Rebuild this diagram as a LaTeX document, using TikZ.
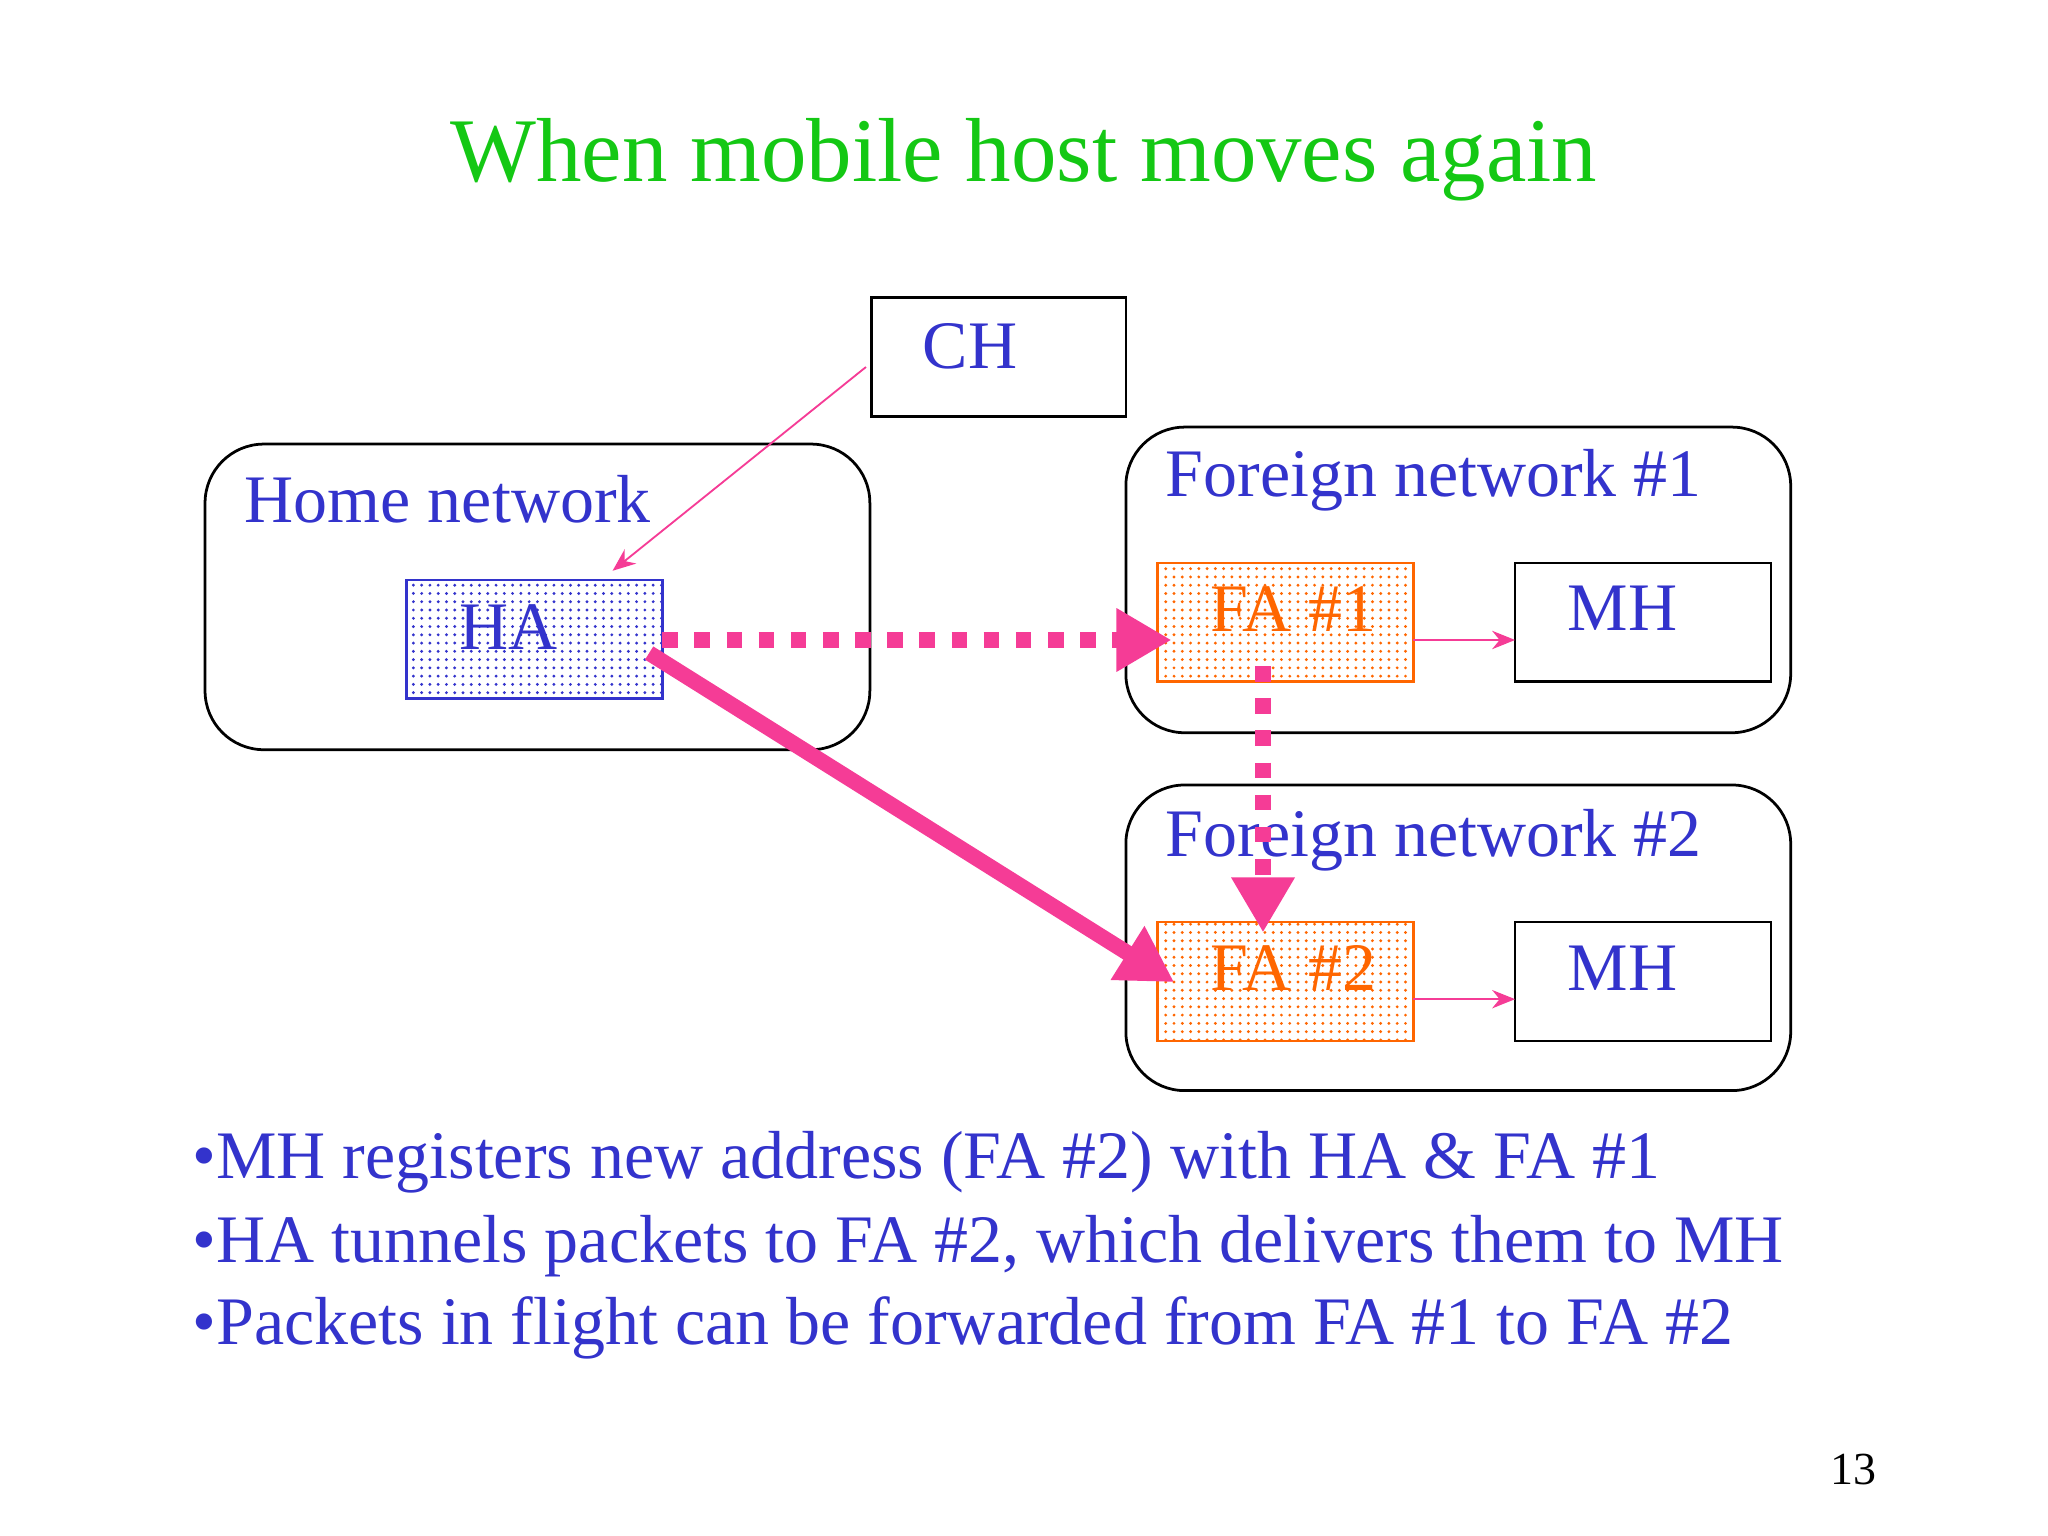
\documentclass[tikz,border=0pt]{standalone}
\usepackage{fontspec}
\setmainfont{Liberation Serif}
\usetikzlibrary{patterns.meta,arrows.meta}
\definecolor{txtblue}{RGB}{51,51,204}
\definecolor{ttlgreen}{RGB}{20,200,20}
\definecolor{pinkish}{RGB}{245,60,150}
\definecolor{orng}{RGB}{255,102,0}
\tikzset{
  net/.style={draw,rounded corners=0.45cm,line width=0.6pt},
  box/.style={draw,line width=0.6pt},
  agent/.style={draw=#1,pattern={Dots[radius=0.35pt,distance=1.8pt]},pattern color=#1,line width=0.6pt},
  lbl/.style={font=\fontsize{14.8}{18}\selectfont,text=txtblue,anchor=west},
  tunnel/.style={pinkish,line width=3.4pt,-{Triangle[length=12pt,width=13pt]}},
  dashtunnel/.style={tunnel,dash pattern=on 3.4pt off 3.6pt},
  thin/.style={pinkish,-{Stealth[length=5pt,width=4pt]}},
}
\begin{document}
\begin{tikzpicture}[x=0.01cm,y=-0.01cm]
        \useasboundingbox (0,0) rectangle (1568,1176);
        \node[font=\fontsize{19.8}{24}\selectfont,text=ttlgreen] (title) at (784,122) {When mobile host moves again};
        % boxes
        \draw[box] (667,228) rectangle (862,319);
        \node[lbl] (ch) at (694,265) {CH};
        \draw[net] (157,340) rectangle (666,574);
        \node[lbl] (home) at (175,382) {Home network};
        \draw[agent=txtblue] (311,444) rectangle (507,535);
        \node[lbl] (ha) at (339,480) {HA};
        \draw[net] (862,327) rectangle (1371,561);
        \node[lbl] (fn1) at (880,368) {Foreign network \#1};
        \draw[agent=orng] (886,431) rectangle (1082,522);
        \node[lbl,text=orng] (fa1) at (914,466) {FA \#1};
        \draw[box] (1160,431) rectangle (1356,522);
        \node[lbl] (mh1) at (1188,466) {MH};
        \draw[net] (862,601) rectangle (1371,835);
        \node[lbl] (fn2) at (880,643) {Foreign network \#2};
        \draw[agent=orng] (886,706) rectangle (1082,797);
        \node[lbl,text=orng] (fa2) at (914,741) {FA \#2};
        \draw[box] (1160,706) rectangle (1356,797);
        \node[lbl] (mh2) at (1188,741) {MH};
        % arrows
        \coordinate (chout) at (663,281);
        \coordinate (hain) at (469,437);
        \draw[thin] (chout) -- (hain);
        \coordinate (haout) at (507,490);
        \coordinate (fa1in) at (897,490);
        \draw[dashtunnel] (haout) -- (fa1in);
        \coordinate (haout2) at (497,500);
        \coordinate (fa2in) at (899,752);
        \draw[tunnel] (haout2) -- (fa2in);
        \coordinate (fa1out) at (967,510);
        \coordinate (fa2top) at (967,714);
        \draw[dashtunnel] (fa1out) -- (fa2top);
        \coordinate (a1) at (1082,490); \coordinate (b1) at (1160,490);
        \draw[thin] (a1) -- (b1);
        \coordinate (a2) at (1082,765); \coordinate (b2) at (1160,765);
        \draw[thin] (a2) -- (b2);
        % bullets
        \node[lbl] (t1) at (135,890) {•MH registers new address (FA \#2) with HA \& FA \#1};
        \node[lbl] (t2) at (135,954) {•HA tunnels packets to FA \#2, which delivers them to MH};
        \node[lbl] (t3) at (135,1017) {•Packets in flight can be forwarded from FA \#1 to FA \#2};
        \node[font=\fontsize{10}{12}\selectfont] (pg) at (1419,1125) {13};
    \end{tikzpicture}
\end{document}
